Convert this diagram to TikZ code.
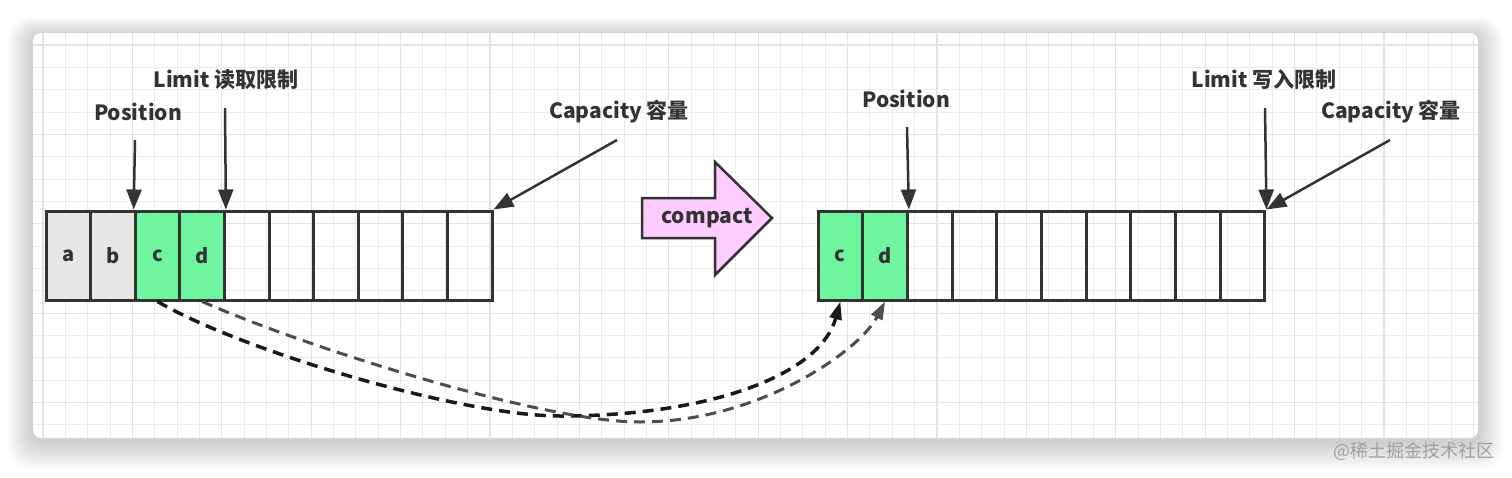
\documentclass[tikz,border=0pt]{standalone}
\usepackage{fontspec}
\setmainfont{Noto Sans CJK SC}
\usepackage{tikz}
\usetikzlibrary{arrows.meta}
\definecolor{ink}{HTML}{333333}
\definecolor{oldgray}{HTML}{E6E6E6}
\definecolor{newgreen}{HTML}{6FF59E}
\definecolor{pinkfill}{HTML}{FFCCFF}
\definecolor{gridminor}{HTML}{EBEBEB}
\definecolor{gridmajor}{HTML}{E3E3E3}
\definecolor{markgray}{HTML}{A0A0A0}
\definecolor{dashgray}{HTML}{4D4D4D}

\begin{document}
\begin{tikzpicture}[x=1pt,y=-1pt,
  cell/.style={draw=ink,line width=3pt,minimum width=44.6pt,minimum height=89pt,inner sep=0pt,text=ink,font=\fontsize{20}{24}\selectfont\bfseries},
  oldcell/.style={fill=oldgray},
  newcell/.style={fill=newgreen},
  lbl/.style={text=ink,inner sep=0pt,font=\fontsize{21}{25}\selectfont\bfseries},
  arr/.style={-{Triangle[length=20pt,width=15pt]},line width=2.5pt,draw=ink},
  flow/.style={-{Triangle[length=18pt,width=12pt]},line width=3.5pt,dash pattern=on 11pt off 7pt}
]
  \useasboundingbox (0,0) rectangle (1512,477);
  % card with shadow and grid
  \foreach \k in {1,...,16}
    \fill[black,opacity=0.01,rounded corners=8+\k] (33-1.6*\k,33-1.2*\k+3) rectangle (1478+1.6*\k,438+1.8*\k+3);
  \fill[white,rounded corners=8] (33,33) rectangle (1478,438);
  \begin{scope}
    \clip[rounded corners=8] (33,33) rectangle (1478,438);
    \foreach \i in {-1,...,65} \draw[gridminor,line width=1pt] ({43+22.35*\i},33) -- ({43+22.35*\i},438);
    \foreach \j in {-1,...,18} \draw[gridminor,line width=1pt] (33,{45+22.35*\j}) -- (1478,{45+22.35*\j});
    \foreach \i in {0,...,16} \draw[gridmajor,line width=1.2pt] ({43+89.4*\i},33) -- ({43+89.4*\i},438);
    \foreach \j in {0,...,4} \draw[gridmajor,line width=1.2pt] (33,{45+89.4*\j}) -- (1478,{45+89.4*\j});
  \end{scope}

  % buffer before compact
  \foreach \i/\t/\s in {1/a/oldcell,2/b/oldcell,3/c/newcell,4/d/newcell}
    \node[cell,\s] (l\i) at ({46+44.6*(\i-0.5)},255.5) {\t};
  \foreach \i in {5,...,10}
    \node[cell] (l\i) at ({46+44.6*(\i-0.5)},255.5) {};

  % buffer after compact
  \foreach \i/\t in {1/c,2/d}
    \node[cell,newcell] (r\i) at ({818+44.7*(\i-0.5)},255.5) {\t};
  \foreach \i in {3,...,10}
    \node[cell] (r\i) at ({818+44.7*(\i-0.5)},255.5) {};

  \node[lbl] (posl) at (138,112) {Position};
  \node[lbl] (liml) at (226,80) {Limit 读取限制};
  \node[lbl] (capl) at (619,112) {Capacity 容量};
  \node[lbl] (posr) at (906,99) {Position};
  \node[lbl] (limr) at (1264,80) {Limit 写入限制};
  \node[lbl] (capr) at (1391,112) {Capacity 容量};

  \coordinate (poslt) at (135,140);
  \coordinate (limlt) at (225,108);
  \coordinate (caplt) at (617,140);
  \coordinate (posrt) at (907,127);
  \coordinate (limrt) at (1265,108);
  \coordinate (caprt) at (1390,140);
  \draw[arr] (poslt) -- (l3.north west);
  \draw[arr] (limlt) -- (l4.north east);
  \draw[arr] (caplt) -- (l10.north east);
  \draw[arr] (posrt) -- (r2.north east);
  \draw[arr] (limrt) -- (r10.north east);
  \draw[arr] (caprt) -- (r10.north east);

  % compact arrow
  \draw[ink,line width=2.5pt,fill=pinkfill] (642,198) -- (715,198) -- (715,162) -- (772,218) -- (715,275) -- (715,238) -- (642,238) -- cycle;
  \node[lbl] (cmp) at (707,218) {compact};

  \draw[flow,draw=black!90] (l3.south) .. controls (240,350) and (460,416) .. (560,416) .. controls (710,416) and (820,375) .. (r1.south);
  \draw[flow,draw=dashgray,line width=3pt] (l4.south) .. controls (300,345) and (540,422) .. (640,422) .. controls (760,422) and (860,350) .. (r2.south);

  \node[text=markgray,font=\fontsize{18}{20}\selectfont] (mark) at (1414,451) {@稀土掘金技术社区};
\end{tikzpicture}
\end{document}
